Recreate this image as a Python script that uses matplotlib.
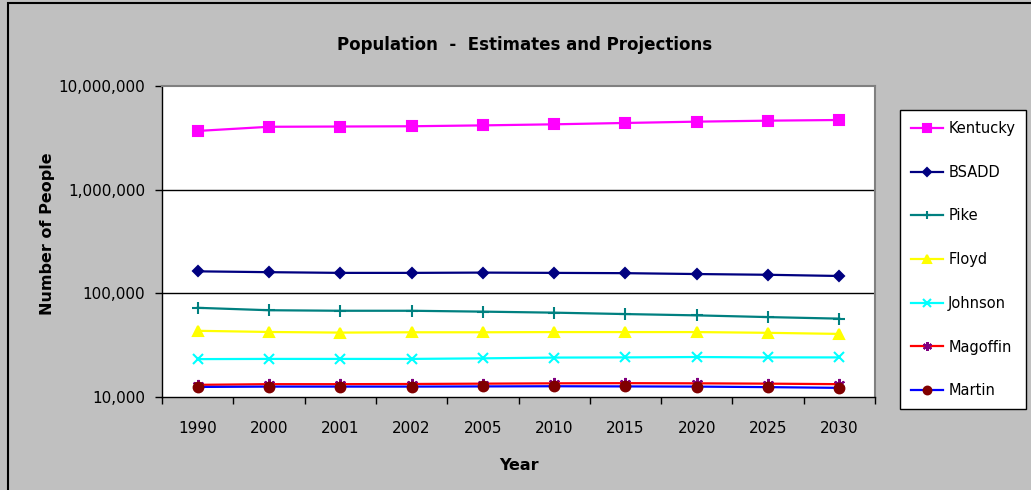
"""
Population - Estimates and Projections (log scale line chart, Excel style).
"""

import matplotlib
matplotlib.use("Agg")
import matplotlib.pyplot as plt
from matplotlib.patches import Rectangle
from matplotlib.ticker import FixedLocator, FuncFormatter, NullFormatter


years = ["1990", "2000", "2001", "2002", "2005", "2010", "2015", "2020", "2025", "2030"]

kentucky = [3685000, 4042000, 4065000, 4090000, 4170000, 4270000, 4400000, 4530000, 4630000, 4700000]
bsadd = [163000, 160000, 157500, 157500, 158500, 157500, 156500, 153500, 151000, 147000]
pike = [72500, 68700, 67900, 67900, 66600, 65100, 63100, 61300, 59000, 57000]
floyd = [43500, 42400, 41800, 42100, 42100, 42300, 42300, 42300, 41600, 40600]
johnson = [23200, 23300, 23300, 23300, 23600, 24000, 24100, 24300, 24100, 24100]
magoffin = [13100, 13300, 13300, 13350, 13450, 13550, 13600, 13550, 13450, 13300]
martin = [12500, 12600, 12600, 12600, 12650, 12700, 12650, 12600, 12450, 12250]

# (label, values, line colour, marker, marker face, marker size)
series = [
    ("Kentucky", kentucky, "#FF00FF", "s", "#FF00FF", 7),
    ("BSADD", bsadd, "#000080", "D", "#000080", 5.5),
    ("Pike", pike, "#008080", "+", "#008080", 8),
    ("Floyd", floyd, "#FFFF00", "^", "#FFFF00", 7),
    ("Johnson", johnson, "#00FFFF", "x", "#00FFFF", 7),
    ("Magoffin", magoffin, "#FF0000", (6, 2, 0), "#800080", 8),
    ("Martin", martin, "#0000FF", "o", "#800000", 7),
]

W, H = 1031, 490
fig = plt.figure(figsize=(W / 100, H / 100), dpi=100)
fig.patch.set_facecolor("#C0C0C0")

# outer chart-area border (only top and left visible in the crop)
fig.patches.append(Rectangle((8 / W, -0.1), 1.2, 1 - 3 / H + 0.1,
                             transform=fig.transFigure, fill=False,
                             edgecolor="#000000", linewidth=1.5))

ax = fig.add_axes([162 / W, 1 - 397 / H, (875 - 162) / W, (397 - 86) / H])
ax.set_facecolor("white")

x = list(range(len(years)))
for label, vals, color, marker, mface, msize in series:
    ax.plot(x, vals, color=color, linewidth=1.6, marker=marker,
            markersize=msize, markerfacecolor=mface, markeredgecolor=mface,
            markeredgewidth=1.5, label=label, zorder=3)

ax.set_yscale("log")
ax.set_ylim(10000, 10000000)
ax.set_xlim(-0.5, len(years) - 0.5)

ax.yaxis.set_major_locator(FixedLocator([1e4, 1e5, 1e6, 1e7]))
ax.yaxis.set_minor_locator(FixedLocator([]))
ax.yaxis.set_major_formatter(FuncFormatter(lambda v, p: f"{int(round(v)):,}"))
ax.yaxis.set_minor_formatter(NullFormatter())
ax.tick_params(axis="y", which="major", direction="out", length=5,
               width=1, labelsize=11, pad=7)

# category ticks between categories, labels centred
ax.xaxis.set_major_locator(FixedLocator([i - 0.5 for i in range(len(years) + 1)]))
ax.xaxis.set_major_formatter(NullFormatter())
ax.xaxis.set_minor_locator(FixedLocator(x))
ax.set_xticks(x, years, minor=True)
ax.tick_params(axis="x", which="major", direction="out", length=5, width=1)
ax.tick_params(axis="x", which="minor", length=0, labelsize=11, pad=17)

for v in (1e5, 1e6):
    ax.axhline(v, color="#000000", linewidth=1, zorder=1)

for side in ("top", "right"):
    ax.spines[side].set_color("#808080")
    ax.spines[side].set_linewidth(1.5)
for side in ("left", "bottom"):
    ax.spines[side].set_color("#000000")
    ax.spines[side].set_linewidth(1)

fig.text(525 / W, 1 - 45 / H, "Population  -  Estimates and Projections",
         ha="center", va="center", fontsize=12, fontweight="bold")
fig.text(48 / W, 1 - 234 / H, "Number of People", ha="center", va="center",
         rotation=90, fontsize=11.5, fontweight="bold")
fig.text(519 / W, 1 - 465 / H, "Year", ha="center", va="center",
         fontsize=11.5, fontweight="bold")

leg = ax.legend(loc="upper left", bbox_to_anchor=(900 / W, 1 - 110 / H),
                bbox_transform=fig.transFigure, fontsize=10.5, frameon=True,
                fancybox=False, edgecolor="#000000", framealpha=1,
                labelspacing=1.97, handlelength=2.2, handletextpad=0.35,
                borderpad=0.75, borderaxespad=0, markerscale=0.8)
leg.get_frame().set_linewidth(1)

fig.savefig("out.png", dpi=100, facecolor=fig.get_facecolor())
